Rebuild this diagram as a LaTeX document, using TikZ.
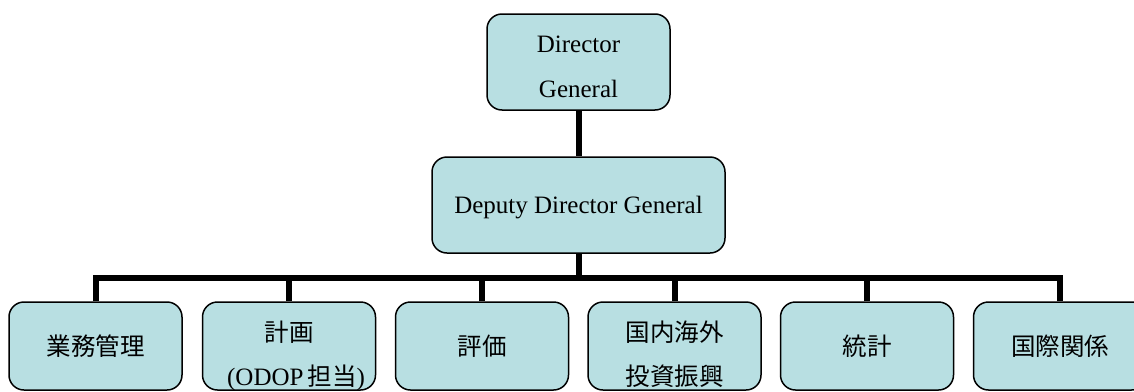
\documentclass[tikz,border=0pt]{standalone}
\usepackage{fontspec}
\setmainfont{Liberation Serif}
\newfontfamily\cjk{Noto Sans CJK JP}
\usetikzlibrary{backgrounds}
\definecolor{boxfill}{RGB}{184,223,226}
\begin{document}
\begin{tikzpicture}[x=1pt,y=-1pt,
  orgbox/.style={draw=black, line width=1.5pt, fill=boxfill, rounded corners=15pt, inner sep=0pt},
  lowbox/.style={orgbox, minimum width=173pt, minimum height=88pt},
  link/.style={line width=6pt, line join=miter},
  lbl/.style={anchor=base, inner sep=0pt, font=\fontsize{25}{30}\selectfont},
  jlbl/.style={anchor=base, inner sep=0pt, font=\cjk\fontsize{24.5}{30}\selectfont}]
\useasboundingbox (0,0) rectangle (1134,391);
\node[orgbox, minimum width=183pt, minimum height=96pt] (dg) at (578.5,62) {};
\node[orgbox, minimum width=293pt, minimum height=96pt] (ddg) at (578.5,205) {};
\node[lowbox] (b1) at (95.5,346) {};
\node[lowbox] (b2) at (289,346) {};
\node[lowbox] (b3) at (482,346) {};
\node[lowbox] (b4) at (674.5,346) {};
\node[lowbox] (b5) at (867,346) {};
\node[lowbox] (b6) at (1060,346) {};
\coordinate (bar) at (578.5,278);
\begin{scope}[on background layer]
\draw[link] (dg.south) -- (ddg.north);
\draw[link] (ddg.south) -- (bar);
\foreach \i in {1,...,6} \draw[link] (b\i.north) |- (bar);
\end{scope}
\node[lbl] (dgt1) at (578.5,52) {Director};
\node[lbl] (dgt2) at (578.5,97) {General};
\node[lbl] (ddgt) at (578.5,213) {Deputy Director General};
\node[jlbl] (t1) at (95.5,355) {業務管理};
\node[jlbl] (t2a) at (289,341) {計画};
\node[lbl] (t2b) at (296,385) {(ODOP\hspace{4pt}{\cjk\fontsize{24.5}{30}\selectfont 担当})};
\node[jlbl] (t3) at (482,355) {評価};
\node[jlbl] (t4a) at (674.5,341) {国内海外};
\node[jlbl] (t4b) at (674.5,385) {投資振興};
\node[jlbl] (t5) at (867,355) {統計};
\node[jlbl] (t6) at (1060,355) {国際関係};
\end{tikzpicture}
\end{document}
